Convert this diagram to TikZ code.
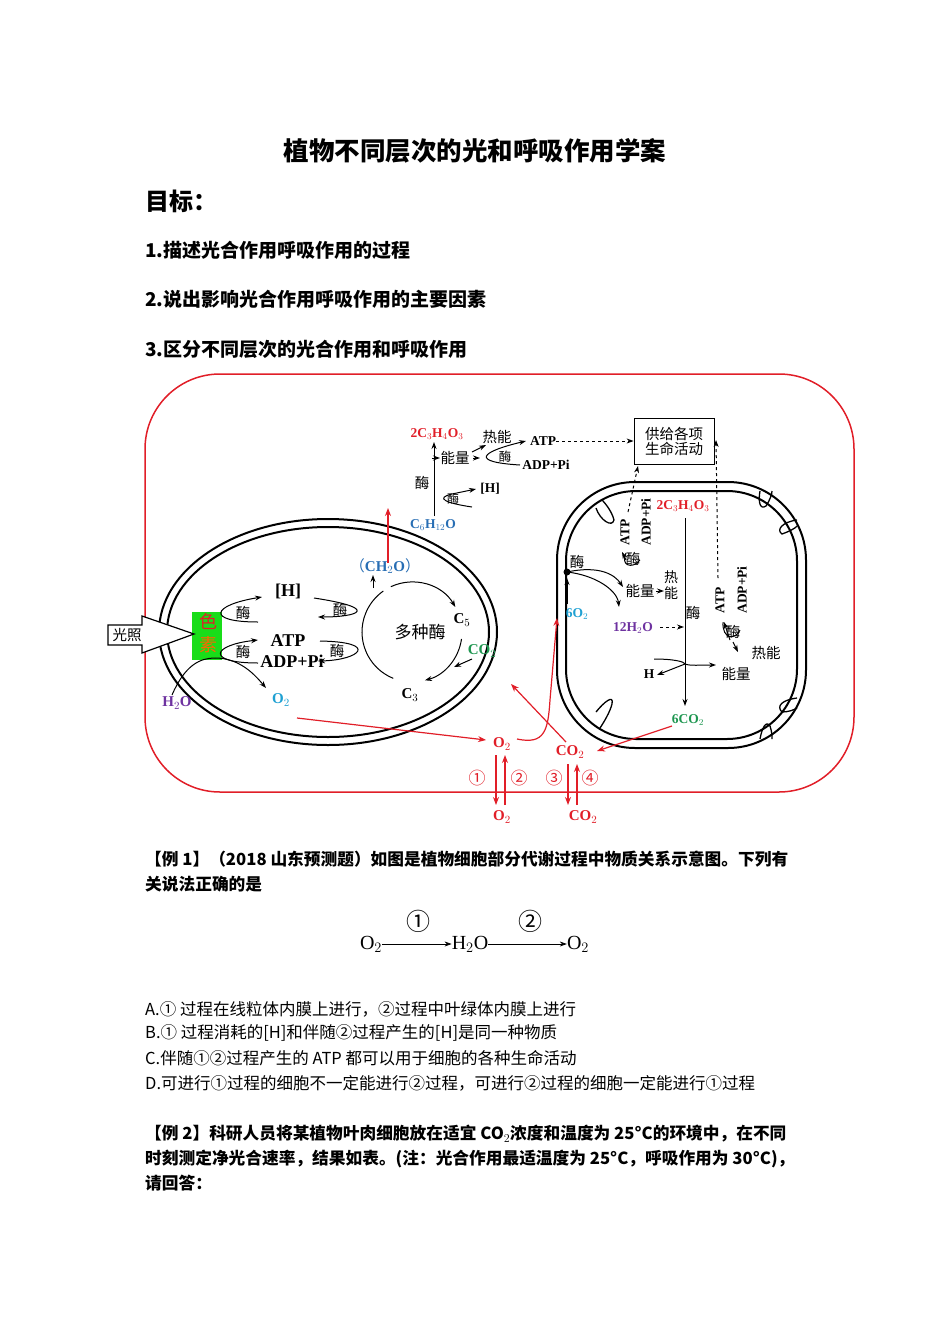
\documentclass[tikz,border=0pt]{standalone}
\usepackage{fontspec}
\setmainfont{Noto Sans CJK SC}
\newfontfamily\ser{Liberation Serif}
\usetikzlibrary{arrows.meta}
\definecolor{cred}{RGB}{225,30,40}
\definecolor{cblue}{RGB}{40,110,180}
\definecolor{ccyan}{RGB}{30,160,210}
\definecolor{cgreen}{RGB}{30,150,80}
\definecolor{cpurp}{RGB}{110,50,160}
\begin{document}
\begin{tikzpicture}[x=1pt,y=-1pt,
  lb/.style={font=\ser\bfseries\fontsize{15}{15}\selectfont,inner sep=0},
  lbb/.style={font=\ser\bfseries\fontsize{18}{18}\selectfont,inner sep=0},
  zh/.style={font=\fontsize{14.5}{15}\selectfont,inner sep=0},
  ar/.style={-{Stealth[length=7pt,width=5pt]},line width=1pt},
  ln/.style={line width=1pt},
  rar/.style={-{Stealth[length=8pt,width=6pt]},cred,line width=1.2pt},
  dar/.style={-{Stealth[length=7pt,width=5pt]},dashed,line width=1pt},
  tx/.style={anchor=west,inner sep=0}]
\useasboundingbox (0,0) rectangle (950,1344);
% header
\node[inner sep=0,font=\bfseries\fontsize{25.5}{26}\selectfont] (title) at (475,151) {植物不同层次的光和呼吸作用学案};
\node[tx,font=\bfseries\fontsize{24}{24}\selectfont] (goal) at (145,201) {目标：};
\node[tx,font=\bfseries\fontsize{19}{19}\selectfont] (g1) at (145,250) {1.描述光合作用呼吸作用的过程};
\node[tx,font=\bfseries\fontsize{19}{19}\selectfont] (g2) at (145,299) {2.说出影响光合作用呼吸作用的主要因素};
\node[tx,font=\bfseries\fontsize{19}{19}\selectfont] (g3) at (145,349) {3.区分不同层次的光合作用和呼吸作用};
% cell
\draw[cred,line width=1.5pt,rounded corners=75pt] (145,374) rectangle (854,792);
% chloroplast
\draw[line width=2pt] (328,632) ellipse[x radius=169, y radius=113];
\draw[line width=2pt] (328,632) ellipse[x radius=161, y radius=105];
\fill[green!85!black!90] (192,612) rectangle (222,660);
\node[inner sep=0,font=\fontsize{18}{18}\selectfont,text=cred] (se) at (208,621) {色};
\node[inner sep=0,font=\fontsize{18}{18}\selectfont,text=orange!80!red] (su) at (208,645) {素};
\draw[line width=1.2pt,fill=white] (108,625) -- (142,625) -- (142,616) -- (194,634) -- (142,653) -- (142,645) -- (108,645) -- cycle;
\node[zh] (gz) at (127,635) {光照};
\node[lbb] (H1) at (288,591) {[H]};
\node[lbb] (atp1) at (288,641) {ATP};
\node[lbb] (adp1) at (292,661) {ADP+Pi};
\node[lb,text=ccyan] (o2a) at (281,700) {O$_2$};
\node[lb,text=cpurp] (h2oa) at (177,703) {H$_2$O};
\draw[ar] (258,622) .. controls (205,622) and (212,605) .. (262,597);
\node[zh] (m1) at (243,613) {酶};
\draw[ar] (258,663) .. controls (205,663) and (212,645) .. (258,640);
\node[zh] (m2) at (243,652) {酶};
\draw[ln] (172,695) .. controls (185,665) and (200,658) .. (215,658);
\draw[ar] (215,658) .. controls (240,658) and (255,675) .. (266,688);
\draw[ar] (314,598) .. controls (380,608) and (360,617) .. (318,617);
\node[zh] (m3) at (340,610) {酶};
\draw[ar] (320,641) .. controls (380,642) and (360,660) .. (318,661);
\node[zh] (m4) at (337,651) {酶};
% calvin cycle
\draw[ar] (412,632) ++(245:50) arc[start angle=245,end angle=330,radius=50];
\draw[ar] (412,632) ++(8:50) arc[start angle=8,end angle=75,radius=50];
\draw[ln] (412,632) ++(112:50) arc[start angle=112,end angle=235,radius=50];
\node[zh,font=\fontsize{17}{17}\selectfont] (dz) at (420,632) {多种酶};
\node[lb] (c5) at (462,620) {C$_5$};
\node[lb] (c3) at (410,695) {C$_3$};
\node[lb,text=cgreen] (co2g) at (482,651) {CO$_2$};
\draw[ar] (472,659) -- (454,667);
\node[lb,text=cblue] (ch2o) at (385,566) {{\rmfamily\mdseries（}CH$_2$O{\rmfamily\mdseries）}};
\draw[ar] (373,588) -- (373,575);
\draw[rar] (388,563) -- (388,508);
% glycolysis
\node[lb,text=cred,font=\ser\bfseries\fontsize{13.5}{14}\selectfont] (pyr1) at (437,434) {2C$_3$H$_4$O$_3$};
\node[lb,text=cblue,font=\ser\bfseries\fontsize{13.5}{14}\selectfont] (glu) at (433,525) {C$_6$H$_{12}$O};
\draw[ar] (434,516) -- (434,442);
\node[zh] (m5) at (422,483) {酶};
\draw[ar] (472,507) .. controls (445,503) and (435,498) .. (452,494) -- (476,489);
\node[zh,font=\fontsize{12}{12}\selectfont] (m6) at (453,499) {酶};
\node[lb,font=\ser\bfseries\fontsize{13.5}{14}\selectfont] (H2) at (490,489) {[H]};
\draw[ar] (432,458) -- (440,458);
\node[zh] (nl1) at (455,458) {能量};
\node[zh] (rn1) at (497,437) {热能};
\draw[ar] (472,452) -- (486,445);
\draw[ar] (473,458) -- (480,458);
\draw[ar] (520,465) .. controls (470,462) and (480,452) .. (526,441);
\node[zh,font=\fontsize{12.5}{13}\selectfont] (m7) at (505,457) {酶};
\node[lb,font=\ser\bfseries\fontsize{13.5}{14}\selectfont] (atp2) at (543,441) {ATP};
\node[lb,font=\ser\bfseries\fontsize{13.5}{14}\selectfont] (adp2) at (546,465) {ADP+Pi};
\node[draw,line width=0.8pt,minimum width=80pt,minimum height=46pt,inner sep=2pt,align=left,zh] (box) at (674,441) {供给各项\\生命活动};
\draw[dar] (atp2.east) -- (box.west);
% mitochondrion
\draw[line width=2pt,rounded corners=78pt] (557,482) rectangle (806,748);
\draw[line width=2pt,rounded corners=70pt] (566,491) rectangle (797,739);
\draw[line width=1.3pt] (596,508) .. controls (600,520) and (612,528) .. (614,520) .. controls (612,512) and (606,504) .. (602,500);
\draw[line width=1.3pt] (797,520) .. controls (782,522) and (776,530) .. (782,534) .. controls (788,532) and (796,528) .. (797,526);
\draw[line width=1.3pt] (596,712) .. controls (604,702) and (614,694) .. (612,704) .. controls (610,712) and (604,722) .. (600,728);
\draw[line width=1.3pt] (797,698) .. controls (782,700) and (776,706) .. (782,712) .. controls (788,712) and (794,710) .. (797,708);
\draw[line width=1.3pt] (760,491) .. controls (758,502) and (760,510) .. (766,506) .. controls (770,500) and (772,494) .. (772,491);
\draw[line width=1.3pt] (760,739) .. controls (762,728) and (766,720) .. (770,726) .. controls (772,732) and (772,736) .. (772,739);
\node[lb,text=cred,font=\ser\bfseries\fontsize{13.5}{14}\selectfont] (pyr2) at (683,506) {2C$_3$H$_4$O$_3$};
\node[lb,text=cgreen,font=\ser\bfseries\fontsize{13.5}{14}\selectfont] (co26) at (688,720) {6CO$_2$};
\draw[ar] (685,518) -- (685,706);
\node[zh] (m8) at (693,613) {酶};
\fill (567,572) circle (3.5pt);
\node[zh] (m9) at (577,562) {酶};
\node[lb,text=ccyan,font=\ser\bfseries\fontsize{13.5}{14}\selectfont] (o26) at (577,614) {6O$_2$};
\draw[ar] (567,604) -- (567,578);
\draw[ar] (567,572) .. controls (600,565) and (615,575) .. (623,587);
\draw[ar] (567,572) .. controls (595,575) and (617,590) .. (619,607);
\node[zh] (nl2) at (640,591) {能量};
\draw[ar] (656,591) -- (664,591);
\node[zh,align=center,font=\fontsize{14}{16}\selectfont] (rn2) at (671,585) {热\\能};
\node[lb,text=cpurp,font=\ser\bfseries\fontsize{13.5}{14}\selectfont] (h2o12) at (633,628) {12H$_2$O};
\draw[dar] (660,627) -- (684,627);
\node[lb,rotate=90,font=\ser\bfseries\fontsize{13.5}{14}\selectfont] (atp3) at (625,532) {ATP};
\node[lb,rotate=90,font=\ser\bfseries\fontsize{13.5}{14}\selectfont] (adp3) at (646,522) {ADP+Pi};
\draw[ln] (626,553) .. controls (620,565) and (632,570) .. (640,560);
\draw[ar] (626,560) -- (622,552);
\node[zh] (m10) at (633,559) {酶};
\draw[dar] (628,512) -- (638,466);
\node[lb,rotate=90,font=\ser\bfseries\fontsize{13.5}{14}\selectfont] (atp4) at (720,600) {ATP};
\node[lb,rotate=90,font=\ser\bfseries\fontsize{13.5}{14}\selectfont] (adp4) at (742,590) {ADP+Pi};
\draw[ln] (723,622) .. controls (722,640) and (736,640) .. (740,630);
\draw[ar] (730,640) -- (724,622);
\node[zh] (m11) at (733,632) {酶};
\draw[ar] (733,642) -- (738,652);
\node[zh] (rn3) at (766,653) {热能};
\node[zh] (nl3) at (736,674) {能量};
\draw[ln] (654,659) .. controls (675,659) and (685,662) .. (685,664);
\draw[ar] (685,664) -- (657,675);
\draw[ar] (685,664) .. controls (690,666) and (700,665) .. (716,665);
\node[lb,font=\ser\bfseries\fontsize{13.5}{14}\selectfont] (Hm) at (649,674) {H};
\draw[dar] (718,578) -- (716,440);
% red exchanges
\node[lb,text=cred] (o2r) at (502,744) {O$_2$};
\node[lb,text=cred] (co2r) at (570,752) {CO$_2$};
\node[lb,text=cred] (o2b) at (502,817) {O$_2$};
\node[lb,text=cred] (co2b) at (583,817) {CO$_2$};
\draw[rar] (297,718) -- (486,740);
\draw[cred,line width=1.2pt,-{Stealth[length=8pt,width=6pt]}] (517,739) .. controls (545,745) and (548,730) .. (550,700) -- (557,618);
\draw[rar] (566,742) -- (511,684);
\draw[rar] (672,726) -- (597,751);
\draw[rar] (496,755) -- (496,805);
\draw[rar] (505,805) -- (505,755);
\draw[rar] (568,764) -- (568,805);
\draw[rar] (577,805) -- (577,764);
\foreach \n/\x/\t in {c1/477/①,c2/519/②,c3/554/③,c4/590/④}
  \node[inner sep=0,text=cred,font=\fontsize{17}{17}\selectfont] (\n) at (\x,778) {\t};
% example 1
\node[tx,font=\bfseries\fontsize{16.7}{17}\selectfont] (e1a) at (145,859) {【例 1】（2018 山东预测题）如图是植物细胞部分代谢过程中物质关系示意图。下列有};
\node[tx,font=\bfseries\fontsize{16.7}{17}\selectfont] (e1b) at (145,884) {关说法正确的是};
\node[inner sep=0,font=\ser\fontsize{20}{20}\selectfont] (q1) at (371,944) {O$_2$};
\node[inner sep=0,font=\ser\fontsize{20}{20}\selectfont] (q2) at (470,944) {H$_2$O};
\node[inner sep=0,font=\ser\fontsize{20}{20}\selectfont] (q3) at (578,944) {O$_2$};
\draw[ar,line width=0.7pt] (q1) -- (q2);
\draw[ar,line width=0.7pt] (q2) -- (q3);
\node[inner sep=0,font=\fontsize{24}{24}\selectfont] (k1) at (418,921) {①};
\node[inner sep=0,font=\fontsize{24}{24}\selectfont] (k2) at (530,921) {②};
\foreach \n/\y/\t in {oa/1009/{A.① 过程在线粒体内膜上进行，②过程中叶绿体内膜上进行},
  ob/1033/{B.① 过程消耗的[H]和伴随②过程产生的[H]是同一种物质},
  oc/1058/{C.伴随①②过程产生的 ATP 都可以用于细胞的各种生命活动},
  od/1083/{D.可进行①过程的细胞不一定能进行②过程，可进行②过程的细胞一定能进行①过程}}
  \node[tx,font=\fontsize{16.5}{17}\selectfont] (\n) at (145,\y) {\t};
\node[tx,font=\bfseries\fontsize{16.7}{17}\selectfont] (e2a) at (145,1134) {【例 2】科研人员将某植物叶肉细胞放在适宜 CO$_2$浓度和温度为 25°C的环境中，在不同};
\node[tx,font=\bfseries\fontsize{16.7}{17}\selectfont] (e2b) at (145,1159) {时刻测定净光合速率，结果如表。(注：光合作用最适温度为 25°C，呼吸作用为 30°C)，};
\node[tx,font=\bfseries\fontsize{16.7}{17}\selectfont] (e2c) at (145,1183) {请回答：};
\end{tikzpicture}
\end{document}
